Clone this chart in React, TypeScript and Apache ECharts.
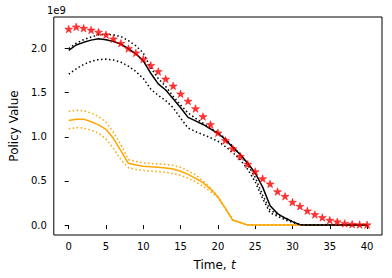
import React, { useEffect, useRef } from "react";
import * as echarts from "echarts";

// values in units of 1e9
const TIME = [0,1,2,3,4,5,6,7,8,9,10,11,12,13,14,15,16,17,18,19,20,21,22,23,24,25,26,27,28,29,30,31,32,33,34,35,36,37,38,39,40];

const STARS = [2.22,2.245,2.23,2.21,2.186,2.156,2.11,2.06,2.0,1.95,1.88,1.81,1.74,1.655,1.577,1.487,1.405,1.32,1.23,1.14,1.045,0.96,0.866,0.78,0.69,0.606,0.527,0.467,0.38,0.327,0.26,0.214,0.162,0.12,0.087,0.056,0.038,0.02,0.01,0.006,0.004];

const BLACK_MID = [1.98,2.04,2.07,2.095,2.11,2.10,2.08,2.05,2.0,1.94,1.86,1.72,1.60,1.53,1.43,1.33,1.22,1.18,1.14,1.09,1.04,0.97,0.88,0.80,0.70,0.59,0.43,0.22,0.13,0.08,0.04,0.005,0,0,0,0,0,0,0,0,0];
const BLACK_HI = [2.0,2.06,2.10,2.13,2.155,2.16,2.155,2.135,2.09,2.03,1.95,1.78,1.66,1.57,1.46,1.36,1.27,1.21,1.155,1.10,1.05,0.98,0.89,0.80,0.68,0.54,0.34,0.17,0.12,0.08,0.04,0.005,0,0,0,0,0,0,0,0,0];
const BLACK_LO = [1.71,1.77,1.82,1.855,1.875,1.88,1.87,1.845,1.80,1.74,1.66,1.54,1.47,1.41,1.33,1.21,1.10,1.06,1.025,0.99,0.95,0.89,0.82,0.74,0.63,0.49,0.30,0.14,0.10,0.06,0.03,0.005,0,0,0,0,0,0,0,0,0];

const ORANGE_MID = [1.185,1.20,1.20,1.17,1.135,1.085,0.98,0.84,0.70,0.68,0.667,0.66,0.655,0.648,0.635,0.61,0.575,0.53,0.48,0.41,0.32,0.19,0.055,0.03,0,0,0,0,0,0,0,0,0,0,0,0,0,0,0,0,0];
const ORANGE_HI = [1.287,1.30,1.295,1.27,1.23,1.165,1.05,0.91,0.742,0.72,0.705,0.698,0.692,0.687,0.675,0.655,0.615,0.57,0.50,0.42,0.32,0.19,0.055,0.03,0,0,0,0,0,0,0,0,0,0,0,0,0,0,0,0,0];
const ORANGE_LO = [1.09,1.105,1.10,1.075,1.04,0.975,0.87,0.74,0.65,0.63,0.62,0.612,0.605,0.598,0.585,0.565,0.53,0.49,0.44,0.38,0.31,0.19,0.055,0.03,0,0,0,0,0,0,0,0,0,0,0,0,0,0,0,0,0];

const X_TICKS = [0,5,10,15,20,25,30,35,40];
const Y_TICKS = [0,0.5,1.0,1.5,2.0];

function starPath(): string {
  const pts: string[] = [];
  for (let i = 0; i < 10; i++) {
    const a = -Math.PI / 2 + (i * Math.PI) / 5;
    const r = i % 2 === 0 ? 1 : 0.382;
    pts.push(`${(r * Math.cos(a)).toFixed(4)} ${(r * Math.sin(a)).toFixed(4)}`);
  }
  return "path://M" + pts.join(" L") + " Z";
}

const pairs = (ys: number[]) => TIME.map((t, i) => [t, ys[i]]);

export default function App() {
  const ref = useRef<HTMLDivElement>(null);
  useEffect(() => {
    document.body.style.margin = "0";
    const chart = echarts.init(ref.current!, null, { renderer: "svg" });
    const font = "DejaVu Sans";
    const line = (data: number[], color: string, dotted: boolean) => ({
      type: "line",
      data: pairs(data),
      symbol: "none",
      smooth: false,
      lineStyle: dotted
        ? { color, width: 1.5, type: [1.5, 2.5], cap: "butt" }
        : { color, width: 1.5 },
      silent: true,
    });
    chart.setOption({
      animation: false,
      textStyle: { fontFamily: font },
      grid: {
        left: 47,
        top: 17,
        width: 335,
        height: 218,
        show: true,
        borderColor: "#000",
        borderWidth: 1,
        backgroundColor: "transparent",
      },
      xAxis: {
        type: "value",
        min: -2,
        max: 42,
        axisLine: { show: false },
        splitLine: { show: false },
        axisTick: { show: true, length: 4, lineStyle: { color: "#000" }, customValues: X_TICKS },
        axisLabel: { customValues: X_TICKS, color: "#000", fontSize: 10, margin: 6, fontFamily: font },
      },
      yAxis: {
        type: "value",
        min: -0.112,
        max: 2.357,
        axisLine: { show: false },
        splitLine: { show: false },
        axisTick: { show: true, length: 4, lineStyle: { color: "#000" }, customValues: Y_TICKS },
        axisLabel: {
          customValues: Y_TICKS,
          color: "#000",
          fontSize: 10,
          margin: 7,
          fontFamily: font,
          formatter: (v: number) => v.toFixed(1),
        },
        name: "Policy Value",
        nameLocation: "middle",
        nameGap: 29,
        nameTextStyle: { color: "#000", fontSize: 12, fontFamily: font },
      },
      graphic: [
        {
          type: "text",
          left: 47,
          top: 5,
          style: { text: "1e9", fontSize: 10, fontFamily: font, fill: "#000" },
        },
        {
          type: "text",
          x: 193.5,
          y: 265,
          style: {
            text: "Time, ",
            fontSize: 12,
            fontFamily: font,
            fill: "#000",
            align: "left",
            verticalAlign: "middle",
          },
        },
        {
          type: "text",
          x: 230.9,
          y: 265,
          style: {
            text: "t",
            fontSize: 12,
            fontFamily: font,
            fontStyle: "italic",
            fill: "#000",
            align: "left",
            verticalAlign: "middle",
          },
        },
      ],
      series: [
        line(ORANGE_MID, "#ffa500", false),
        line(ORANGE_HI, "#ffa500", true),
        line(ORANGE_LO, "#ffa500", true),
        line(BLACK_MID, "#000000", false),
        line(BLACK_HI, "#000000", true),
        line(BLACK_LO, "#000000", true),
        {
          type: "scatter",
          data: pairs(STARS),
          symbol: starPath(),
          symbolSize: [8, 7.6],
          itemStyle: { color: "#ff0000", borderColor: "#ff0000", borderWidth: 0.6, borderJoin: "round" },
          silent: true,
          z: 5,
        },
      ],
    });
    return () => chart.dispose();
  }, []);
  return <div ref={ref} style={{ width: 392, height: 278 }} />;
}
